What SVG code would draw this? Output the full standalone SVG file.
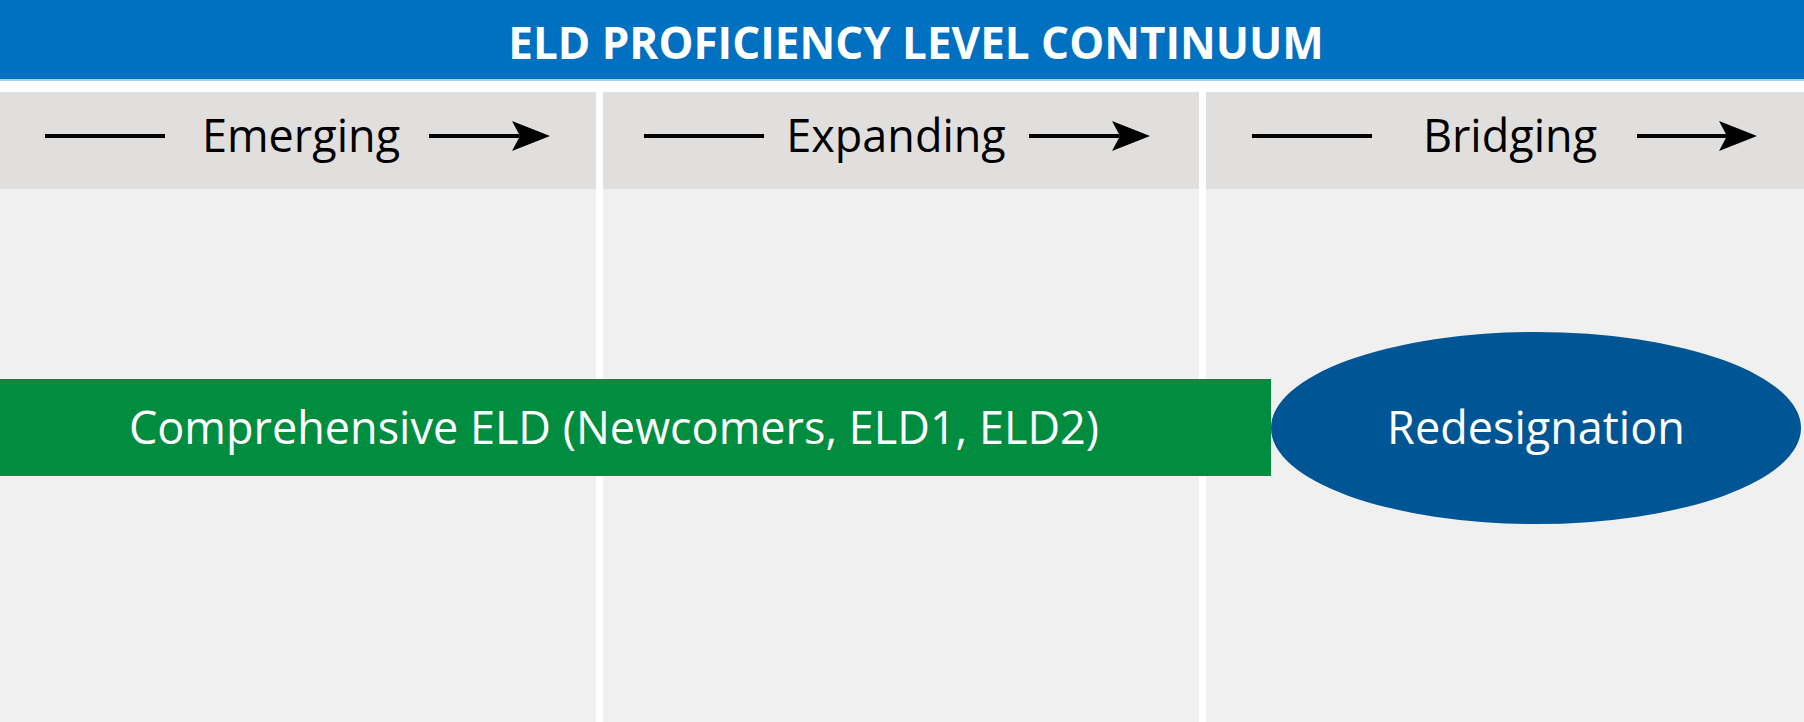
<svg xmlns="http://www.w3.org/2000/svg" width="1804" height="722" viewBox="0 0 1804 722">
<style>
.bg{fill:#ffffff}
.body{fill:#f0f0f0}
.head{fill:#e0dfdd}
.lbl{font-family:"Open Sans","Noto Sans","Liberation Sans",sans-serif;font-size:45px;font-weight:500;fill:#000000;text-anchor:middle}
.title{font-family:"Open Sans","Noto Sans","Liberation Sans",sans-serif;font-size:44px;font-weight:bold;fill:#ffffff;text-anchor:middle}
.wt{font-family:"Open Sans","Noto Sans","Liberation Sans",sans-serif;font-size:45px;fill:#ffffff;text-anchor:middle}
.ln{stroke:#000000;stroke-width:4;fill:none}
</style>
<defs>
<path id="ah" d="M0,0 L-38,-15 L-30,0 L-38,15 Z" fill="#000000"/>
</defs>
<rect class="bg" x="0" y="0" width="1804" height="722"/>
<g id="title-bar">
<rect x="0" y="0" width="1804" height="79" fill="#0070c0"/>
<rect x="0" y="79" width="1804" height="2" fill="#a9cdea"/>
<text class="title" x="916" y="59">ELD PROFICIENCY LEVEL CONTINUUM</text>
</g>
<g id="col-emerging">
<rect class="body" x="0" y="189" width="596" height="533"/>
<rect class="head" x="0" y="92" width="596" height="97"/>
<text class="lbl" x="301" y="152">Emerging</text>
</g>
<g id="col-expanding">
<rect class="body" x="603" y="189" width="596" height="533"/>
<rect class="head" x="603" y="92" width="596" height="97"/>
<text class="lbl" x="896" y="152">Expanding</text>
</g>
<g id="col-bridging">
<rect class="body" x="1206" y="189" width="598" height="533"/>
<rect class="head" x="1206" y="92" width="598" height="97"/>
<text class="lbl" x="1510" y="152">Bridging</text>
</g>
<g id="connectors">
<line class="ln" x1="45" y1="136" x2="165" y2="136"/>
<line class="ln" x1="429" y1="136" x2="522" y2="136"/>
<use href="#ah" x="550" y="136"/>
<line class="ln" x1="644" y1="136" x2="764" y2="136"/>
<line class="ln" x1="1029" y1="136" x2="1122" y2="136"/>
<use href="#ah" x="1150" y="136"/>
<line class="ln" x1="1252" y1="136" x2="1372" y2="136"/>
<line class="ln" x1="1637" y1="136" x2="1729" y2="136"/>
<use href="#ah" x="1757" y="136"/>
</g>
<g id="comprehensive-eld">
<rect x="0" y="379" width="1271" height="97" fill="#008d40"/>
<text class="wt" x="614" y="444">Comprehensive ELD (Newcomers, ELD1, ELD2)</text>
</g>
<g id="redesignation">
<ellipse cx="1536" cy="428" rx="265" ry="96" fill="#005594"/>
<text class="wt" x="1536" y="444">Redesignation</text>
</g>
</svg>
